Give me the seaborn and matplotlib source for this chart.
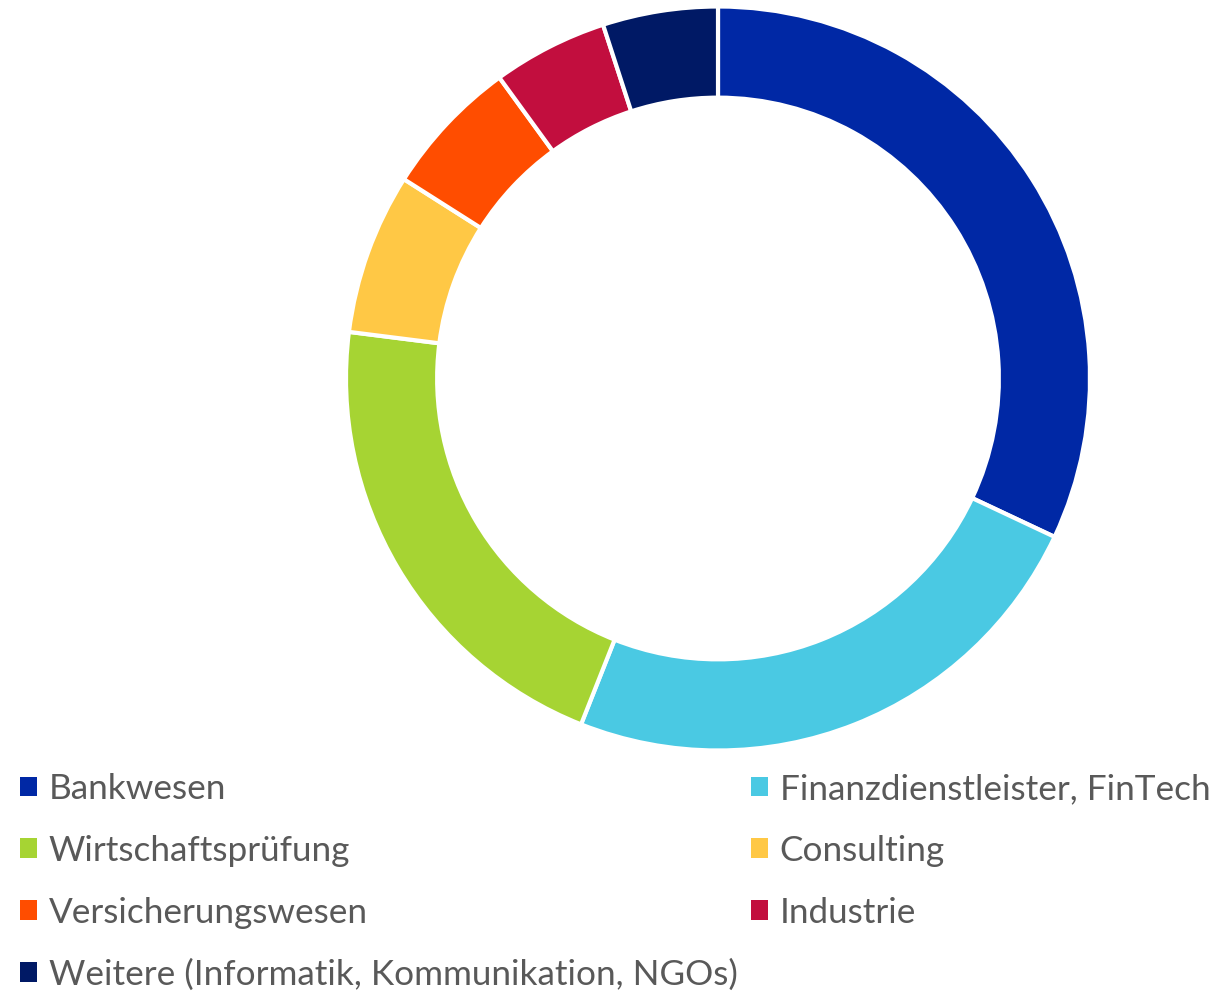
import matplotlib
matplotlib.use("Agg")
import matplotlib.pyplot as plt
import seaborn as sns

categories = ["Bankwesen", "Finanzdienstleister, FinTech", "Wirtschaftsprüfung",
              "Consulting", "Versicherungswesen", "Industrie",
              "Weitere (Informatik, Kommunikation, NGOs)"]
shares = [32, 24, 21, 7, 6, 5, 5]
colors = ["#0028A5", "#4AC9E3", "#A6D433", "#FFC845", "#FF4D00", "#C20E3E", "#001965"]

sns.set_theme(style="white")
plt.rcParams['font.family'] = ['Lato', 'DejaVu Sans']

W, H = 1225, 993
fig = plt.figure(figsize=(W / 100, H / 100), dpi=100)
fig.patch.set_facecolor("white")

cx, cy, r = 718, 993 - 378.5, 372
ax = fig.add_axes([(cx - r) / W, (cy - r) / H, 2 * r / W, 2 * r / H])
wedges, _ = ax.pie(shares, colors=colors, startangle=90, counterclock=False,
                   radius=1, wedgeprops=dict(width=0.245, edgecolor="white", linewidth=3))
ax.set_xlim(-1, 1)
ax.set_ylim(-1, 1)
ax.set_aspect("equal")
ax.axis("off")

order = [0, 2, 4, 6, 1, 3, 5]
fs = 25.3
leg = fig.legend([wedges[i] for i in order], [categories[i] for i in order],
                 ncol=2, loc="upper left", bbox_to_anchor=(20 / W, 1 - 773 / H),
                 frameon=False, fontsize=fs, handlelength=0.49, handleheight=0.49,
                 handletextpad=0.33, labelspacing=0.85, columnspacing=0.38,
                 borderaxespad=0, borderpad=0)
for t in leg.get_texts():
    t.set_color("#595959")
for h in leg.legend_handles:
    h.set_linewidth(0)

fig.savefig("out.png", dpi=100, facecolor="white")
